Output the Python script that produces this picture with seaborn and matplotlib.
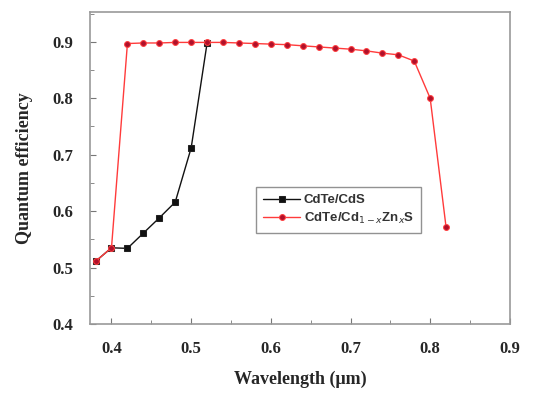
import numpy as np
import pandas as pd
import matplotlib
matplotlib.use("Agg")
import matplotlib.pyplot as plt
import seaborn as sns
from matplotlib.ticker import MultipleLocator

# Data
wl_cds = [0.38, 0.40, 0.42, 0.44, 0.46, 0.48, 0.50, 0.52]
qe_cds = [0.511, 0.535, 0.534, 0.561, 0.588, 0.616, 0.712, 0.898]

wl_zn = [0.38, 0.40, 0.42, 0.44, 0.46, 0.48, 0.50, 0.52, 0.54, 0.56, 0.58, 0.60,
         0.62, 0.64, 0.66, 0.68, 0.70, 0.72, 0.74, 0.76, 0.78, 0.80, 0.82]
qe_zn = [0.511, 0.535, 0.897, 0.898, 0.898, 0.899, 0.899, 0.899, 0.899, 0.898, 0.897, 0.896,
         0.895, 0.893, 0.891, 0.889, 0.887, 0.884, 0.880, 0.877, 0.866, 0.800, 0.571]

label_cds = "CdTe/CdS"
label_zn = "CdTe/Cd$_{1-x}$Zn$_x$S"

sns.set_style("white")
plt.rcParams['font.family'] = ['Liberation Serif', 'DejaVu Serif']

fig = plt.figure(figsize=(5.5, 3.98), dpi=100)
ax = fig.add_axes([0.1636, 0.186, 0.927 - 0.1636, 0.970 - 0.186])

df1 = pd.DataFrame({"wl": wl_cds, "qe": qe_cds})
df2 = pd.DataFrame({"wl": wl_zn, "qe": qe_zn})

sns.lineplot(data=df1, x="wl", y="qe", ax=ax, color="#111111", lw=1.0,
             marker="s", markersize=3.8, markeredgecolor="#222222",
             markerfacecolor="#111111", label=label_cds)
sns.lineplot(data=df2, x="wl", y="qe", ax=ax, color="#ff3b3b", lw=1.0,
             marker="o", markersize=4.2, markeredgecolor="#ff4040",
             markerfacecolor="#b0102a", label=label_zn)

ax.set_xlim(0.373, 0.9)
ax.set_ylim(0.4, 0.953)
ax.xaxis.set_major_locator(MultipleLocator(0.1))
ax.xaxis.set_minor_locator(MultipleLocator(0.05))
ax.yaxis.set_major_locator(MultipleLocator(0.1))
ax.yaxis.set_minor_locator(MultipleLocator(0.05))
ax.set_xticks([0.4, 0.5, 0.6, 0.7, 0.8, 0.9])
ax.set_xticklabels(["0.4", "0.5", "0.6", "0.7", "0.8", "0.9"])
ax.set_yticks([0.4, 0.5, 0.6, 0.7, 0.8, 0.9])
ax.set_yticklabels(["0.4", "0.5", "0.6", "0.7", "0.8", "0.9"])

ax.tick_params(axis="both", which="both", direction="in", color="#777777",
               bottom=True, left=True, top=False, right=False)
ax.tick_params(axis="both", which="major", length=4, labelsize=12, pad=12)
ax.tick_params(axis="both", which="minor", length=3)
for lab in ax.get_xticklabels() + ax.get_yticklabels():
    lab.set_fontweight("bold")

for s in ax.spines.values():
    s.set_color("#9a9a9a")
    s.set_linewidth(1.2)

ax.set_xlabel("Wavelength (\u03bcm)", fontsize=13, fontweight="bold", labelpad=10)
ax.set_ylabel("Quantum efficiency", fontsize=13, fontweight="bold", labelpad=14)

leg = ax.legend(loc="upper left", bbox_to_anchor=(0.395, 0.439), borderaxespad=0,
                frameon=True, fancybox=False,
                prop={"family": "Liberation Sans", "size": 9.5, "weight": "bold"},
                handlelength=2.8, borderpad=0.55, labelspacing=0.3,
                handletextpad=0.3)
leg.get_frame().set_edgecolor("#777777")
leg.get_frame().set_linewidth(1.0)
for t in leg.get_texts():
    t.set_color("#333333")

fig.savefig("out.png", dpi=100)
